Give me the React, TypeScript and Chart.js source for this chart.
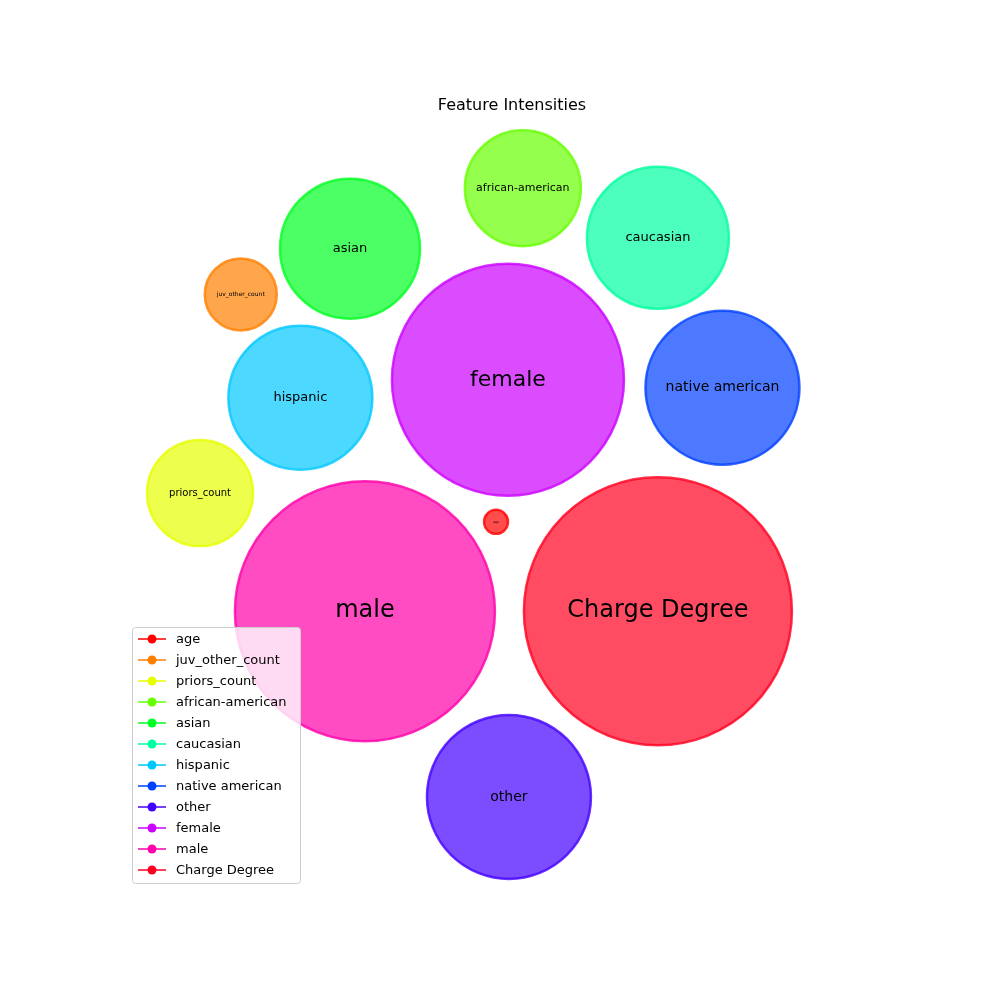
import React, { useEffect, useRef } from "react";
import { Chart, registerables } from "chart.js";
Chart.register(...registerables);

const labels = ["age","juv_other_count","priors_count","african-american","asian","caucasian","hispanic","native american","other","female","male","Charge Degree"];
const xs = [496,239,198,523,349,659,299,724,509,508,364,659];
const ys = [522,293,493,186,247,236,397,387,799,379,612,612];
const radii = [12,36,53,58,70,71,72,77,82,116,130,134];
const fontSizes = [3,6,10,11,13,13,13,14,14,22,24,24];
const colors = ["#ff0000","#ff8000","#e6ff00","#66ff00","#00ff22","#00ffa0","#00c8ff","#0040ff","#4400ff","#cc00ff","#ff00aa","#ff0020"];
const title = "Feature Intensities";

function hexA(h: string, a: number) {
  const n = parseInt(h.slice(1), 16);
  return `rgba(${(n >> 16) & 255},${(n >> 8) & 255},${n & 255},${a})`;
}

const FONT = "'DejaVu Sans', sans-serif";
const PAD = Math.max(...radii);

const overlay = {
  id: "overlay",
  afterDatasetsDraw(chart: any) {
    const ctx = chart.ctx;
    ctx.save();
    ctx.fillStyle = "#000";
    ctx.textAlign = "center";
    ctx.textBaseline = "middle";
    chart.data.datasets.forEach((ds: any, i: number) => {
      const el = chart.getDatasetMeta(i).data[0];
      ctx.font = `${fontSizes[i]}px ${FONT}`;
      ctx.fillText(ds.label, el.x, el.y);
    });
    ctx.font = `16px ${FONT}`;
    ctx.fillText(title, 512, 106);
    const lx = 132, ly = 627, lw = 168, lh = 256;
    ctx.fillStyle = "rgba(255,255,255,0.8)";
    ctx.strokeStyle = "#cccccc";
    ctx.lineWidth = 1;
    ctx.beginPath();
    ctx.roundRect(lx + 0.5, ly + 0.5, lw, lh, 3);
    ctx.fill();
    ctx.stroke();
    ctx.textAlign = "left";
    ctx.font = `13px ${FONT}`;
    chart.data.datasets.forEach((ds: any, i: number) => {
      const y = 639 + i * 21;
      ctx.strokeStyle = colors[i];
      ctx.lineWidth = 1.5;
      ctx.beginPath();
      ctx.moveTo(138, y);
      ctx.lineTo(166, y);
      ctx.stroke();
      ctx.fillStyle = colors[i];
      ctx.beginPath();
      ctx.arc(152, y, 4.5, 0, Math.PI * 2);
      ctx.fill();
      ctx.fillStyle = "#000";
      ctx.fillText(ds.label, 176, y + 1);
    });
    ctx.restore();
  },
};

export default function App() {
  const ref = useRef<HTMLCanvasElement>(null);
  useEffect(() => {
    const chart = new Chart(ref.current!, {
      type: "bubble",
      data: {
        datasets: labels.map((l, i) => ({
          label: l,
          data: [{ x: xs[i], y: ys[i], r: radii[i] }],
          backgroundColor: hexA(colors[i], 0.7),
          borderColor: hexA(colors[i], 0.8),
          borderWidth: 2.5,
          clip: false as any,
        })),
      },
      options: {
        animation: false,
        responsive: false,
        layout: { padding: 0 },
        plugins: { legend: { display: false }, tooltip: { enabled: false } },
        scales: {
          x: { type: "linear", min: PAD, max: 1000 - PAD, display: false },
          y: { type: "linear", min: PAD, max: 1000 - PAD, reverse: true, display: false },
        },
      },
      plugins: [overlay],
    });
    return () => chart.destroy();
  }, []);
  return (
    <div style={{ position: "absolute", left: 0, top: 0, width: 1000, height: 1000, background: "#fff" }}>
      <canvas ref={ref} width={1000} height={1000} style={{ width: 1000, height: 1000 }} />
    </div>
  );
}
